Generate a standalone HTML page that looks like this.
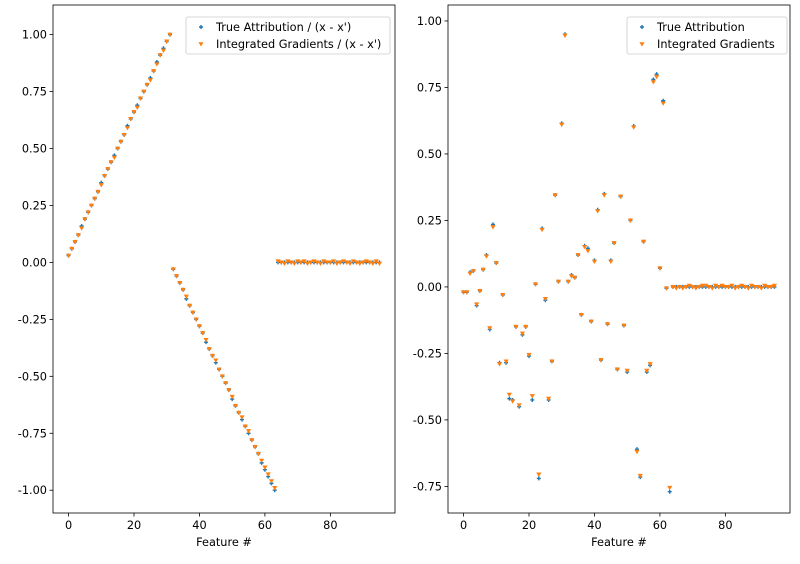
<!DOCTYPE html>
<html><head><meta charset="utf-8"><style>
body{margin:0;background:#fff;width:800px;height:560px;overflow:hidden;font-family:"DejaVu Sans","Liberation Sans",sans-serif}
svg text{font-family:"DejaVu Sans","Liberation Sans",sans-serif;font-size:11.3px;fill:#000}
</style></head><body>
<svg id="c" width="800" height="560"></svg>
<script>
const features=[...Array(96).keys()];
const leftTrue=[0.03,0.06,0.09,0.12,0.16,0.19,0.22,0.25,0.28,0.31,0.35,0.38,0.41,0.44,0.47,0.5,0.53,0.56,0.6,0.63,0.66,0.69,0.72,0.75,0.78,0.81,0.84,0.88,0.91,0.94,0.97,1.0,
-0.03,-0.06,-0.09,-0.12,-0.16,-0.19,-0.22,-0.25,-0.28,-0.31,-0.35,-0.38,-0.41,-0.44,-0.47,-0.5,-0.53,-0.56,-0.6,-0.63,-0.66,-0.69,-0.72,-0.75,-0.78,-0.81,-0.84,-0.88,-0.91,-0.94,-0.97,-1.0,
0,0,0,0,0,0,0,0,0,0,0,0,0,0,0,0,0,0,0,0,0,0,0,0,0,0,0,0,0,0,0,0];
const leftIG=[0.03,0.06,0.09,0.12,0.15,0.19,0.22,0.25,0.28,0.31,0.34,0.38,0.41,0.44,0.46,0.5,0.53,0.56,0.59,0.63,0.66,0.68,0.72,0.75,0.78,0.8,0.84,0.87,0.91,0.93,0.97,1.0,
-0.03,-0.06,-0.09,-0.12,-0.15,-0.19,-0.22,-0.25,-0.28,-0.31,-0.34,-0.38,-0.41,-0.43,-0.47,-0.5,-0.53,-0.56,-0.59,-0.63,-0.66,-0.68,-0.72,-0.74,-0.78,-0.81,-0.84,-0.87,-0.9,-0.93,-0.96,-0.99,
0.005,0.0,-0.005,0.005,0.0,-0.005,0.005,0.0,0.005,-0.005,0.0,0.005,0.0,-0.005,0.005,0.0,0.0,0.005,-0.005,0.0,0.005,0.0,-0.005,0.005,0.0,-0.005,0.0,0.005,0.0,-0.005,0.005,-0.005];
const rightTrue=[-0.02,-0.02,0.055,0.06,-0.07,-0.015,0.065,0.12,-0.16,0.235,0.09,-0.285,-0.03,-0.285,-0.42,-0.425,-0.15,-0.45,-0.18,-0.15,-0.26,-0.425,0.01,-0.72,0.22,-0.05,-0.425,-0.28,0.345,0.02,0.615,0.95,0.02,0.045,0.035,0.12,-0.105,0.155,0.145,-0.13,0.1,0.29,-0.275,0.35,-0.14,0.1,0.165,-0.31,0.34,-0.145,-0.32,0.25,0.605,-0.61,-0.715,0.17,-0.32,-0.295,0.78,0.8,0.07,0.7,-0.005,-0.77,
0,0,0,0,0,0,0,0,0,0,0,0,0,0,0,0,0,0,0,0,0,0,0,0,0,0,0,0,0,0,0,0];
const rightIG=[-0.02,-0.02,0.05,0.06,-0.065,-0.015,0.065,0.115,-0.155,0.225,0.09,-0.29,-0.03,-0.28,-0.405,-0.43,-0.15,-0.445,-0.175,-0.15,-0.255,-0.41,0.01,-0.705,0.215,-0.045,-0.42,-0.28,0.345,0.02,0.61,0.945,0.02,0.04,0.035,0.12,-0.105,0.15,0.135,-0.13,0.095,0.285,-0.275,0.345,-0.14,0.095,0.165,-0.31,0.34,-0.145,-0.315,0.25,0.6,-0.62,-0.71,0.17,-0.315,-0.29,0.77,0.79,0.07,0.69,-0.005,-0.755,
0.0,-0.005,0.0,-0.005,0.0,0.005,0.0,-0.005,0.0,0.005,0.005,0.0,-0.005,0.005,0.0,0.005,0.0,0.0,0.005,-0.005,0.0,0.005,0.0,-0.005,0.005,0.0,0.0,-0.005,0.005,0.0,0.0,0.005];
const xTicks=[0,20,40,60,80];
const leftYTicks=[-1.0,-0.75,-0.5,-0.25,0,0.25,0.5,0.75,1.0];
const rightYTicks=[-0.75,-0.5,-0.25,0,0.25,0.5,0.75,1.0];

const svg=document.getElementById('c');
const NS='http://www.w3.org/2000/svg';
function mk(t,a,p){const e=document.createElementNS(NS,t);for(const k in a)e.setAttribute(k,a[k]);(p||svg).appendChild(e);return e;}

function panel(name,L,R,T,B,xmin,xmax,ymin,ymax,yt,tr,ig,labels,legX,legW){
  const g=mk('g',{});
  
  
  const sx=v=>L+(v-xmin)/(xmax-xmin)*(R-L);
  const sy=v=>B-(v-ymin)/(ymax-ymin)*(B-T);
  xTicks.forEach(t=>{
    const x=sx(t);
    const l=mk('line',{x1:x,x2:x,y1:B,y2:B+3.5,stroke:'#000','stroke-width':0.8},g);
    
    
    const tx=mk('text',{x:x,y:B+16,'text-anchor':'middle'},g);tx.textContent=t;
    
    
  });
  yt.forEach(t=>{
    const y=sy(t);
    mk('line',{x1:L-3.5,x2:L,y1:y,y2:y,stroke:'#000','stroke-width':0.8},g);
    const tx=mk('text',{x:L-6,y:y+4,'text-anchor':'end'},g);tx.textContent=t.toFixed(2);
    
    
  });
  const xl=mk('text',{x:(L+R)/2,y:B+33,'text-anchor':'middle'},g);xl.textContent='Feature #';
  
  
  features.forEach((f,i)=>{
    const x=sx(f),y=sy(tr[i]);
    const p=mk('path',{d:`M${x-2},${y}H${x+2}M${x},${y-2}V${y+2}`,stroke:'#1f77b4','stroke-width':1.4},g);
    
    
  });
  features.forEach((f,i)=>{
    const x=sx(f),y=sy(ig[i]);
    const p=mk('path',{d:`M${x-2.6},${y-1.9}L${x+2.6},${y-1.9}L${x},${y+2.4}Z`,fill:'#ff7f0e'},g);
    
    
  });
  mk('rect',{x:L,y:T,width:R-L,height:B-T,fill:'none',stroke:'#000','stroke-width':0.8},g);
  const lg=mk('g',{},g);
  
  
  mk('rect',{x:legX,y:17,width:legW,height:37,rx:2,fill:'#fff','fill-opacity':0.8,stroke:'#ccc','stroke-width':0.8},lg);
  const mx=legX+15;
  mk('path',{d:`M${mx-2},27H${mx+2}M${mx},25V29`,stroke:'#1f77b4','stroke-width':1.4},lg);
  mk('path',{d:`M${mx-2.6},42.2L${mx+2.6},42.2L${mx},46.5Z`,fill:'#ff7f0e'},lg);
  const t1=mk('text',{x:legX+30,y:31},lg);t1.textContent=labels[0];
  
  
  const t2=mk('text',{x:legX+30,y:48},lg);t2.textContent=labels[1];
  
  
}
panel('left-panel',53,395,5,513,-4.75,99.75,-1.1,1.13,leftYTicks,leftTrue,leftIG,["True Attribution / (x - x')","Integrated Gradients / (x - x')"],186,204);
panel('right-panel',448,790,5,513,-4.75,99.75,-0.85,1.06,rightYTicks,rightTrue,rightIG,["True Attribution","Integrated Gradients"],627,160);
</script>
</body></html>
